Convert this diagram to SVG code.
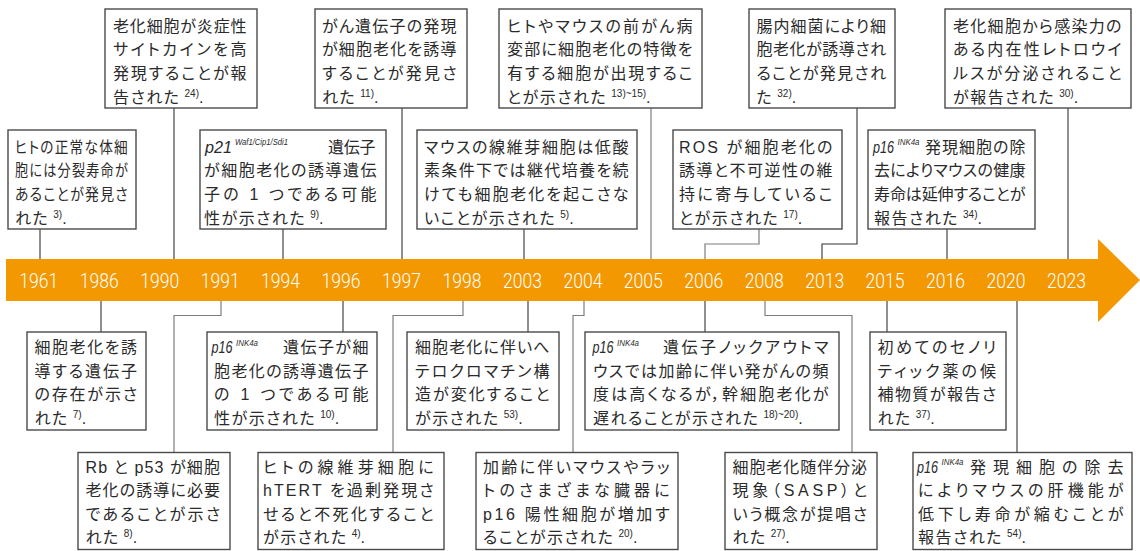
<svg xmlns="http://www.w3.org/2000/svg" width="1140" height="551" viewBox="0 0 1140 551">
<defs>
<style>
.bx{fill:#fff;stroke:#4a4a4a;stroke-width:1.4}
.t{font-family:'Liberation Sans','Noto Sans CJK JP',sans-serif;font-size:16px;fill:#2a2a2a;font-feature-settings:"palt" 1;letter-spacing:1.5px}
.g{font-family:'Liberation Sans',sans-serif;font-size:16px;font-style:italic;fill:#2a2a2a}
.gs{font-family:'Liberation Sans',sans-serif;font-size:9.5px;font-style:italic;fill:#2a2a2a}
.su{font-size:10px;letter-spacing:0}
.yr{font-family:Roboto,'Liberation Sans',sans-serif;font-weight:300;font-size:21px;fill:#fff}
.cd{fill:none;stroke:#333;stroke-width:1.1}
.cg{fill:none;stroke:#7d7d7d;stroke-width:1.2}
</style>
</defs>
<rect width="1140" height="551" fill="#fff"/>

<g id="timeline">
<polygon points="6,259 1098,259 1098,239 1140,280 1098,322 1098,301 6,301" fill="#F39800"/>
<text class="yr" x="19.3" y="288" textLength="39" lengthAdjust="spacingAndGlyphs">1961</text>
<text class="yr" x="79.8" y="288" textLength="39" lengthAdjust="spacingAndGlyphs">1986</text>
<text class="yr" x="140.2" y="288" textLength="39" lengthAdjust="spacingAndGlyphs">1990</text>
<text class="yr" x="200.7" y="288" textLength="39" lengthAdjust="spacingAndGlyphs">1991</text>
<text class="yr" x="261.1" y="288" textLength="39" lengthAdjust="spacingAndGlyphs">1994</text>
<text class="yr" x="321.6" y="288" textLength="39" lengthAdjust="spacingAndGlyphs">1996</text>
<text class="yr" x="382" y="288" textLength="39" lengthAdjust="spacingAndGlyphs">1997</text>
<text class="yr" x="442.5" y="288" textLength="39" lengthAdjust="spacingAndGlyphs">1998</text>
<text class="yr" x="502.9" y="288" textLength="39" lengthAdjust="spacingAndGlyphs">2003</text>
<text class="yr" x="563.4" y="288" textLength="39" lengthAdjust="spacingAndGlyphs">2004</text>
<text class="yr" x="623.8" y="288" textLength="39" lengthAdjust="spacingAndGlyphs">2005</text>
<text class="yr" x="684.3" y="288" textLength="39" lengthAdjust="spacingAndGlyphs">2006</text>
<text class="yr" x="744.7" y="288" textLength="39" lengthAdjust="spacingAndGlyphs">2008</text>
<text class="yr" x="805.2" y="288" textLength="39" lengthAdjust="spacingAndGlyphs">2013</text>
<text class="yr" x="865.6" y="288" textLength="39" lengthAdjust="spacingAndGlyphs">2015</text>
<text class="yr" x="926.1" y="288" textLength="39" lengthAdjust="spacingAndGlyphs">2016</text>
<text class="yr" x="986.5" y="288" textLength="39" lengthAdjust="spacingAndGlyphs">2020</text>
<text class="yr" x="1047" y="288" textLength="39" lengthAdjust="spacingAndGlyphs">2023</text>
</g>

<g id="connectors">
<path class="cd" d="M40 229V259"/>
<path class="cd" d="M174 108V259"/>
<path class="cd" d="M283 229V259"/>
<path class="cd" d="M402 108V259"/>
<path class="cd" d="M524 229V259"/>
<path class="cg" d="M651 108V259"/>
<path class="cg" d="M759 229V244H705V259"/>
<path class="cd" d="M857 108V244H822V259"/>
<path class="cd" d="M947 229V259"/>
<path class="cd" d="M1068 108V259"/>
<path class="cd" d="M101 301V332"/>
<path class="cg" d="M221 301V315.5H174V452.5"/>
<path class="cd" d="M343 301V332"/>
<path class="cg" d="M463 301V315.5H393V452.5"/>
<path class="cd" d="M528 301V332"/>
<path class="cg" d="M584 301V315.5H573V452.5"/>
<path class="cd" d="M705 301V332"/>
<path class="cg" d="M765 301V315.5H852V452.5"/>
<path class="cd" d="M887 301V332"/>
<path class="cd" d="M1017 301V452.5"/>
</g>

<g id="nodeA">
<rect class="bx" x="105" y="9" width="152" height="99"/>
<text class="t" x="113" y="31.5" textLength="135" lengthAdjust="spacing">老化細胞が炎症性</text>
<text class="t" x="113" y="55.2" textLength="135" lengthAdjust="spacing">サイトカインを高</text>
<text class="t" x="113" y="78.9" textLength="135" lengthAdjust="spacing">発現することが報</text>
<text class="t" x="113" y="102.6">告された<tspan class="su" dx="4" dy="-6">24)</tspan><tspan dy="6" letter-spacing="0">.</tspan></text>
</g>

<g id="nodeB">
<rect class="bx" x="315" y="9" width="152" height="99"/>
<text class="t" x="322" y="31.5" textLength="136" lengthAdjust="spacing">がん遺伝子の発現</text>
<text class="t" x="322" y="55.2" textLength="136" lengthAdjust="spacing">が細胞老化を誘導</text>
<text class="t" x="322" y="78.9" textLength="136" lengthAdjust="spacing">することが発見さ</text>
<text class="t" x="322" y="102.6">れた<tspan class="su" dx="4" dy="-6">11)</tspan><tspan dy="6" letter-spacing="0">.</tspan></text>
</g>

<g id="nodeC">
<rect class="bx" x="499" y="9" width="203" height="99"/>
<text class="t" x="507" y="31.5" textLength="187" lengthAdjust="spacing">ヒトやマウスの前がん病</text>
<text class="t" x="507" y="55.2" textLength="187" lengthAdjust="spacing">変部に細胞老化の特徴を</text>
<text class="t" x="507" y="78.9" textLength="187" lengthAdjust="spacing">有する細胞が出現するこ</text>
<text class="t" x="507" y="102.6">とが示された<tspan class="su" dx="4" dy="-6">13)~15)</tspan><tspan dy="6" letter-spacing="0">.</tspan></text>
</g>

<g id="nodeD">
<rect class="bx" x="749" y="9" width="146" height="99"/>
<text class="t" x="756.5" y="31.5" textLength="131" lengthAdjust="spacing">腸内細菌により細</text>
<text class="t" x="756.5" y="55.2" textLength="131" lengthAdjust="spacing">胞老化が誘導され</text>
<text class="t" x="756.5" y="78.9" textLength="131" lengthAdjust="spacing">ることが発見され</text>
<text class="t" x="756.5" y="102.6">た<tspan class="su" dx="4" dy="-6">32)</tspan><tspan dy="6" letter-spacing="0">.</tspan></text>
</g>

<g id="nodeE">
<rect class="bx" x="945" y="9" width="186" height="99"/>
<text class="t" x="953" y="31.5" textLength="170" lengthAdjust="spacing">老化細胞から感染力の</text>
<text class="t" x="953" y="55.2" textLength="170" lengthAdjust="spacing">ある内在性レトロウイ</text>
<text class="t" x="953" y="78.9" textLength="170" lengthAdjust="spacing">ルスが分泌されること</text>
<text class="t" x="953" y="102.6">が報告された<tspan class="su" dx="4" dy="-6">30)</tspan><tspan dy="6" letter-spacing="0">.</tspan></text>
</g>

<g id="nodeF">
<rect class="bx" x="8" y="130" width="128" height="99"/>
<text class="t" x="15" y="152.5" textLength="114" lengthAdjust="spacingAndGlyphs">ヒトの正常な体細</text>
<text class="t" x="15" y="176.2" textLength="114" lengthAdjust="spacingAndGlyphs">胞には分裂寿命が</text>
<text class="t" x="15" y="199.9" textLength="114" lengthAdjust="spacingAndGlyphs">あることが発見さ</text>
<text class="t" x="15" y="223.6">れた<tspan class="su" dx="4" dy="-6">3)</tspan><tspan dy="6" letter-spacing="0">.</tspan></text>
</g>

<g id="nodeG">
<rect class="bx" x="200" y="130" width="186" height="99"/>
<text class="g" x="205" y="152.5" textLength="27" lengthAdjust="spacingAndGlyphs">p21</text>
<text class="gs" x="235" y="145" textLength="53" lengthAdjust="spacingAndGlyphs">Waf1/Cip1/Sdi1</text>
<text class="t" x="328" y="152.5" textLength="49" lengthAdjust="spacing">遺伝子</text>
<text class="t" x="204" y="176.2" textLength="174" lengthAdjust="spacing">が細胞老化の誘導遺伝</text>
<text class="t" x="204" y="199.9" textLength="174" lengthAdjust="spacing">子の 1 つである可能</text>
<text class="t" x="204" y="223.6">性が示された<tspan class="su" dx="4" dy="-6">9)</tspan><tspan dy="6" letter-spacing="0">.</tspan></text>
</g>

<g id="nodeH">
<rect class="bx" x="417" y="130" width="220" height="99"/>
<text class="t" x="424" y="152.5" textLength="206" lengthAdjust="spacing">マウスの線維芽細胞は低酸</text>
<text class="t" x="424" y="176.2" textLength="206" lengthAdjust="spacing">素条件下では継代培養を続</text>
<text class="t" x="424" y="199.9" textLength="206" lengthAdjust="spacing">けても細胞老化を起こさな</text>
<text class="t" x="424" y="223.6">いことが示された<tspan class="su" dx="4" dy="-6">5)</tspan><tspan dy="6" letter-spacing="0">.</tspan></text>
</g>

<g id="nodeI">
<rect class="bx" x="673" y="130" width="169" height="99"/>
<text class="t" x="679" y="152.5" textLength="155" lengthAdjust="spacing">ROS が細胞老化の</text>
<text class="t" x="679" y="176.2" textLength="155" lengthAdjust="spacing">誘導と不可逆性の維</text>
<text class="t" x="679" y="199.9" textLength="155" lengthAdjust="spacing">持に寄与しているこ</text>
<text class="t" x="679" y="223.6">とが示された<tspan class="su" dx="4" dy="-6">17)</tspan><tspan dy="6" letter-spacing="0">.</tspan></text>
</g>

<g id="nodeJ">
<rect class="bx" x="868" y="130" width="167" height="99"/>
<text class="g" x="873" y="152.5" textLength="21" lengthAdjust="spacingAndGlyphs">p16</text>
<text class="gs" x="897.5" y="145" textLength="22" lengthAdjust="spacingAndGlyphs">INK4a</text>
<text class="t" x="925" y="152.5" textLength="102" lengthAdjust="spacing">発現細胞の除</text>
<text class="t" x="874" y="176.2" textLength="153" lengthAdjust="spacing">去によりマウスの健康</text>
<text class="t" x="874" y="199.9" textLength="153" lengthAdjust="spacing">寿命は延伸することが</text>
<text class="t" x="874" y="223.6">報告された<tspan class="su" dx="4" dy="-6">34)</tspan><tspan dy="6" letter-spacing="0">.</tspan></text>
</g>

<g id="nodeK">
<rect class="bx" x="27" y="332" width="119" height="98"/>
<text class="t" x="34.5" y="353" textLength="104" lengthAdjust="spacing">細胞老化を誘</text>
<text class="t" x="34.5" y="376.6" textLength="104" lengthAdjust="spacing">導する遺伝子</text>
<text class="t" x="34.5" y="400.2" textLength="104" lengthAdjust="spacing">の存在が示さ</text>
<text class="t" x="34.5" y="423.8">れた<tspan class="su" dx="4" dy="-6">7)</tspan><tspan dy="6" letter-spacing="0">.</tspan></text>
</g>

<g id="nodeL">
<rect class="bx" x="207" y="332" width="170" height="98"/>
<text class="g" x="211.5" y="353" textLength="21" lengthAdjust="spacingAndGlyphs">p16</text>
<text class="gs" x="236" y="345.5" textLength="22" lengthAdjust="spacingAndGlyphs">INK4a</text>
<text class="t" x="283" y="353" textLength="87" lengthAdjust="spacing">遺伝子が細</text>
<text class="t" x="214" y="376.6" textLength="156" lengthAdjust="spacing">胞老化の誘導遺伝子</text>
<text class="t" x="214" y="400.2" textLength="156" lengthAdjust="spacing">の 1 つである可能</text>
<text class="t" x="214" y="423.8">性が示された<tspan class="su" dx="4" dy="-6">10)</tspan><tspan dy="6" letter-spacing="0">.</tspan></text>
</g>

<g id="nodeM">
<rect class="bx" x="407" y="332" width="152" height="98"/>
<text class="t" x="415" y="353" textLength="136" lengthAdjust="spacing">細胞老化に伴いへ</text>
<text class="t" x="415" y="376.6" textLength="136" lengthAdjust="spacing">テロクロマチン構</text>
<text class="t" x="415" y="400.2" textLength="136" lengthAdjust="spacing">造が変化すること</text>
<text class="t" x="415" y="423.8">が示された<tspan class="su" dx="4" dy="-6">53)</tspan><tspan dy="6" letter-spacing="0">.</tspan></text>
</g>

<g id="nodeN">
<rect class="bx" x="585" y="332" width="254" height="98"/>
<text class="g" x="592.5" y="353" textLength="21" lengthAdjust="spacingAndGlyphs">p16</text>
<text class="gs" x="617" y="345.5" textLength="22" lengthAdjust="spacingAndGlyphs">INK4a</text>
<text class="t" x="663" y="353" textLength="167" lengthAdjust="spacing">遺伝子ノックアウトマ</text>
<text class="t" x="593" y="376.6" textLength="237" lengthAdjust="spacing">ウスでは加齢に伴い発がんの頻</text>
<text class="t" x="593" y="400.2" textLength="237" lengthAdjust="spacing">度は高くなるが，幹細胞老化が</text>
<text class="t" x="593" y="423.8">遅れることが示された<tspan class="su" dx="4" dy="-6">18)~20)</tspan><tspan dy="6" letter-spacing="0">.</tspan></text>
</g>

<g id="nodeO">
<rect class="bx" x="870" y="332" width="136" height="98"/>
<text class="t" x="877.5" y="353" textLength="120" lengthAdjust="spacing">初めてのセノリ</text>
<text class="t" x="877.5" y="376.6" textLength="120" lengthAdjust="spacing">ティック薬の候</text>
<text class="t" x="877.5" y="400.2" textLength="120" lengthAdjust="spacing">補物質が報告さ</text>
<text class="t" x="877.5" y="423.8">れた<tspan class="su" dx="4" dy="-6">37)</tspan><tspan dy="6" letter-spacing="0">.</tspan></text>
</g>

<g id="nodeP">
<rect class="bx" x="78" y="452.5" width="152" height="97"/>
<text class="t" x="85.5" y="472.5" textLength="136" lengthAdjust="spacing">Rb と p53 が細胞</text>
<text class="t" x="85.5" y="496" textLength="136" lengthAdjust="spacing">老化の誘導に必要</text>
<text class="t" x="85.5" y="519.5" textLength="136" lengthAdjust="spacing">であることが示さ</text>
<text class="t" x="85.5" y="543">れた<tspan class="su" dx="4" dy="-6">8)</tspan><tspan dy="6" letter-spacing="0">.</tspan></text>
</g>

<g id="nodeQ">
<rect class="bx" x="258" y="452.5" width="186" height="97"/>
<text class="t" x="263" y="472.5" textLength="172" lengthAdjust="spacing">ヒトの線維芽細胞に</text>
<text class="t" x="263" y="496" textLength="172" lengthAdjust="spacing">hTERT を過剰発現さ</text>
<text class="t" x="263" y="519.5" textLength="172" lengthAdjust="spacing">せると不死化すること</text>
<text class="t" x="263" y="543">が示された<tspan class="su" dx="4" dy="-6">4)</tspan><tspan dy="6" letter-spacing="0">.</tspan></text>
</g>

<g id="nodeR">
<rect class="bx" x="476" y="452.5" width="202" height="97"/>
<text class="t" x="483" y="472.5" textLength="188" lengthAdjust="spacing">加齢に伴いマウスやラッ</text>
<text class="t" x="483" y="496" textLength="188" lengthAdjust="spacing">トのさまざまな臓器に</text>
<text class="t" x="483" y="519.5" textLength="188" lengthAdjust="spacing">p16 陽性細胞が増加す</text>
<text class="t" x="483" y="543">ることが示された<tspan class="su" dx="4" dy="-6">20)</tspan><tspan dy="6" letter-spacing="0">.</tspan></text>
</g>

<g id="nodeS">
<rect class="bx" x="725" y="452.5" width="152" height="97"/>
<text class="t" x="732.5" y="472.5" textLength="136" lengthAdjust="spacing">細胞老化随伴分泌</text>
<text class="t" x="732.5" y="496" textLength="136" lengthAdjust="spacing">現象（SASP）と</text>
<text class="t" x="732.5" y="519.5" textLength="136" lengthAdjust="spacing">いう概念が提唱さ</text>
<text class="t" x="732.5" y="543">れた<tspan class="su" dx="4" dy="-6">27)</tspan><tspan dy="6" letter-spacing="0">.</tspan></text>
</g>

<g id="nodeT">
<rect class="bx" x="913" y="452.5" width="219" height="97"/>
<text class="g" x="917" y="472.5" textLength="21" lengthAdjust="spacingAndGlyphs">p16</text>
<text class="gs" x="941.5" y="465" textLength="22" lengthAdjust="spacingAndGlyphs">INK4a</text>
<text class="t" x="970" y="472.5" textLength="155" lengthAdjust="spacing">発現細胞の除去</text>
<text class="t" x="918" y="496" textLength="207" lengthAdjust="spacing">によりマウスの肝機能が</text>
<text class="t" x="918" y="519.5" textLength="207" lengthAdjust="spacing">低下し寿命が縮むことが</text>
<text class="t" x="918" y="543" letter-spacing="2.5">報告された<tspan class="su" dx="4" dy="-6">54)</tspan><tspan dy="6" letter-spacing="0">.</tspan></text>
</g>
</svg>
